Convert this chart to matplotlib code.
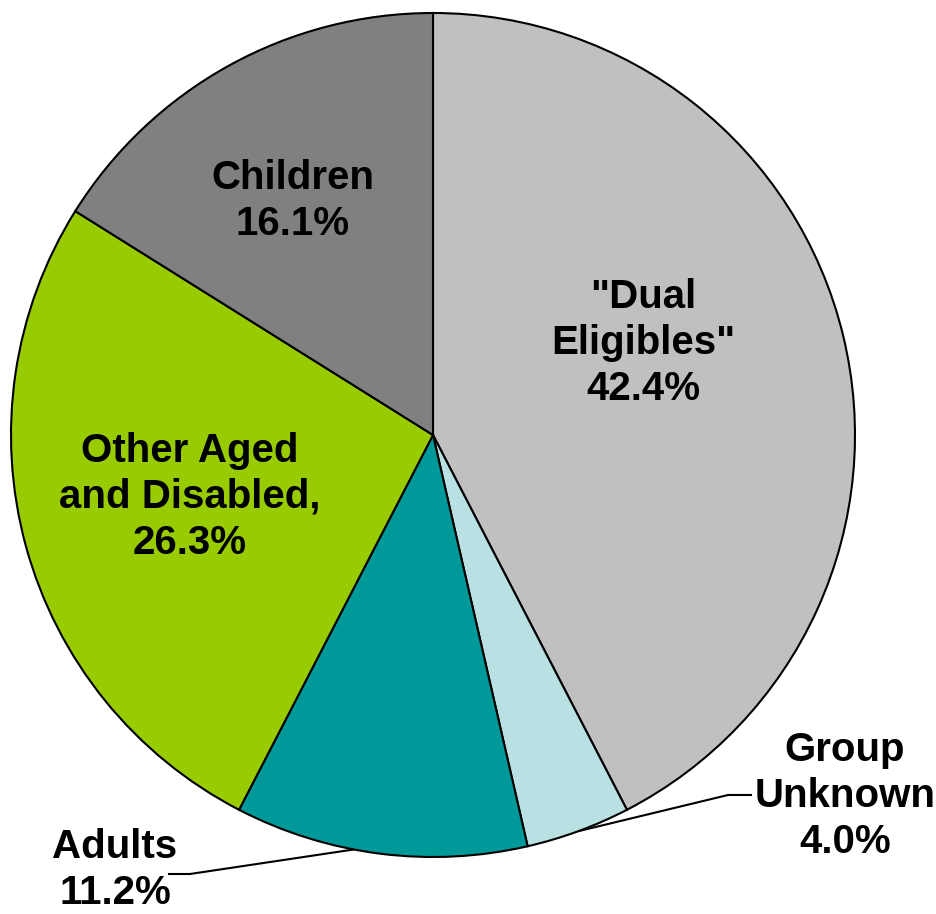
import numpy as np
import matplotlib.pyplot as plt

labels = ['"Dual\nEligibles"\n42.4%', 'Group\nUnknown\n4.0%', 'Adults\n11.2%',
          'Other Aged\nand Disabled,\n26.3%', 'Children\n16.1%']
shares = [42.4, 4.0, 11.2, 26.3, 16.1]
colors = ['#C0C0C0', '#B9E0E3', '#009999', '#99CC00', '#808080']

W, H = 937, 914
fig = plt.figure(figsize=(W / 100, H / 100), dpi=100)
ax = fig.add_axes([0, 0, 1, 1])

cx, cy, r = 433, H - 435, 422
wedges, _ = ax.pie(shares, colors=colors, startangle=90, counterclock=False,
                   center=(cx, cy), radius=r, frame=True,
                   wedgeprops=dict(edgecolor='black', linewidth=1.5))
ax.set_xlim(0, W)
ax.set_ylim(0, H)
ax.axis('off')

font = dict(family='Liberation Sans', fontsize=29, fontweight='bold',
            ha='center', va='center', linespacing=1.27)

# label positions in pixel space (y measured from top)
pos = [(643, 343), (845, 796), (115, 870), (190, 497), (293, 201)]
for lab, (x, y) in zip(labels, pos):
    ax.text(x, H - y, lab, **font)

# leader lines: anchor on the wedge rim, elbow, end at the label
leaders = {1: (0.5, (728, 795), (752, 795)),
           2: (0.41, (190, 874), (168, 874))}
for i, (frac, elbow, end) in leaders.items():
    w = wedges[i]
    ang = np.deg2rad(w.theta1 + frac * (w.theta2 - w.theta1))
    x0 = cx + r * np.cos(ang)
    y0 = cy + r * np.sin(ang)
    ax.plot([x0, elbow[0], end[0]], [y0, H - elbow[1], H - end[1]],
            color='black', lw=1.5, solid_capstyle='butt')

fig.savefig('out.png', dpi=100, facecolor='white')
